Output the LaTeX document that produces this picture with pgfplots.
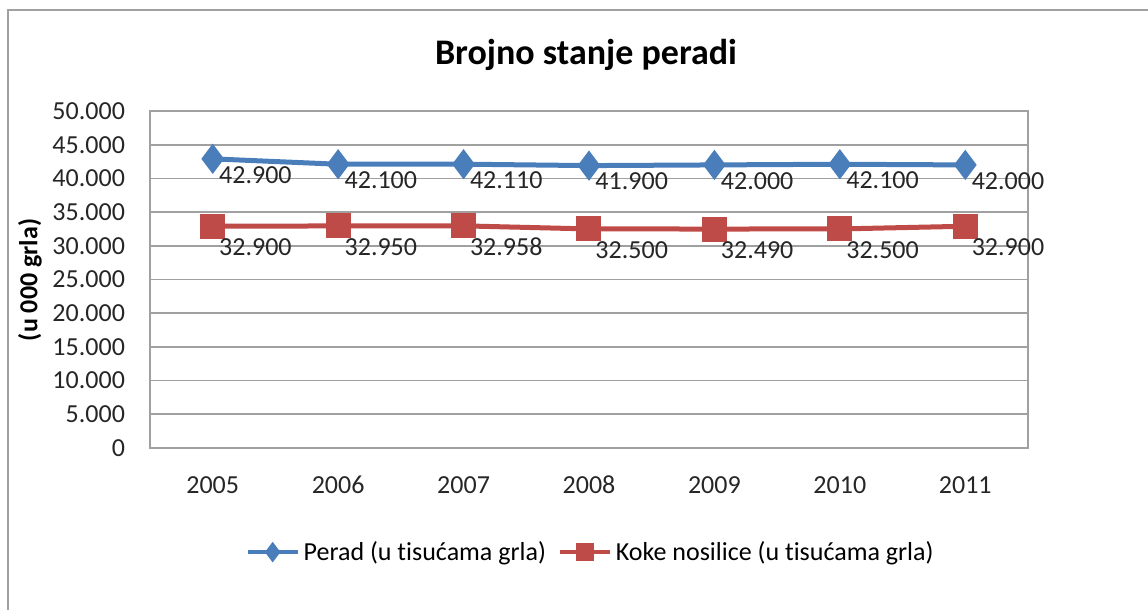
\documentclass[border=0pt]{standalone}
\usepackage{fontspec}
\setmainfont{Carlito}[Ligatures={NoCommon}]
\usepackage{pgfplots}
\pgfplotsset{compat=1.18}

\definecolor{serblue}{HTML}{4A7EBB}
\definecolor{serred}{HTML}{BE4B48}
\definecolor{gridgray}{HTML}{A0A0A0}

\begin{document}
\begin{tikzpicture}
% page = whole 1148x610 picture, 0.5pt per pixel
\path[use as bounding box] (-75pt,-81pt) rectangle (499pt,224pt);
\draw[gridgray,line width=1.2pt] (-71pt,-81pt) -- (-71pt,219pt) -- (499pt,219pt);

\begin{axis}[
  at={(0pt,0pt)}, anchor=south west,
  scale only axis,
  width=439pt, height=168.5pt,
  xmin=-0.5, xmax=6.5,
  ymin=0, ymax=50000,
  xtick={0,...,6},
  xticklabels={2005,2006,2007,2008,2009,2010,2011},
  ytick={0,5000,...,50000},
  major tick length=0pt,
  axis line style={gridgray,line width=0.8pt},
  ymajorgrids,
  grid style={gridgray,line width=0.8pt},
  tick label style={font=\fontsize{13}{15}\selectfont,text=black!85},
  /pgf/number format/.cd, 1000 sep={.}, assume math mode=true, /pgfplots/.cd,
  yticklabel style={xshift=-9pt},
  xticklabel style={yshift=-10pt, text height=9pt, text depth=0pt},
  scaled y ticks=false,
  clip=false,
  nodes near coords,
  every node near coord/.append style={font=\fontsize{13}{15}\selectfont,
    text=black!85, anchor=west, inner sep=0pt},
  legend style={at={(0.503,-0.309)}, anchor=center, draw=none,
    font=\fontsize{13}{15}\selectfont, legend columns=2, inner sep=0pt,
    /tikz/every even column/.append style={column sep=4pt}},
  legend image code/.code={%
    \draw[mark repeat=2,mark phase=2]
      plot coordinates {(0pt,0pt) (12.5pt,0pt) (25pt,0pt)};},
]
\addplot[serblue, line width=2.5pt, mark=diamond*, mark size=5.5pt,
  every node near coord/.append style={xshift=2pt,yshift=-8pt},
  every legend image post/.append style={mark size=3.5pt, line width=2pt}]
  coordinates {(0,42900) (1,42100) (2,42110) (3,41900) (4,42000) (5,42100) (6,42000)};
\addlegendentry{Perad (u tisućama grla)}
\addplot[serred, line width=2.5pt, mark=square*, mark size=5pt,
  every node near coord/.append style={xshift=2pt,yshift=-10.5pt},
  every legend image post/.append style={mark size=3.5pt, line width=2pt}]
  coordinates {(0,32900) (1,32950) (2,32958) (3,32500) (4,32490) (5,32500) (6,32900)};
\addlegendentry{Koke nosilice (u tisućama grla)}
\end{axis}

\node[font=\fontsize{18}{21}\selectfont\bfseries] at (218pt,196.5pt) {Brojno stanje peradi};
\node[font=\fontsize{13}{15}\selectfont\bfseries, rotate=90] at (-60pt,84pt) {(u 000 grla)};
\end{tikzpicture}
\end{document}
